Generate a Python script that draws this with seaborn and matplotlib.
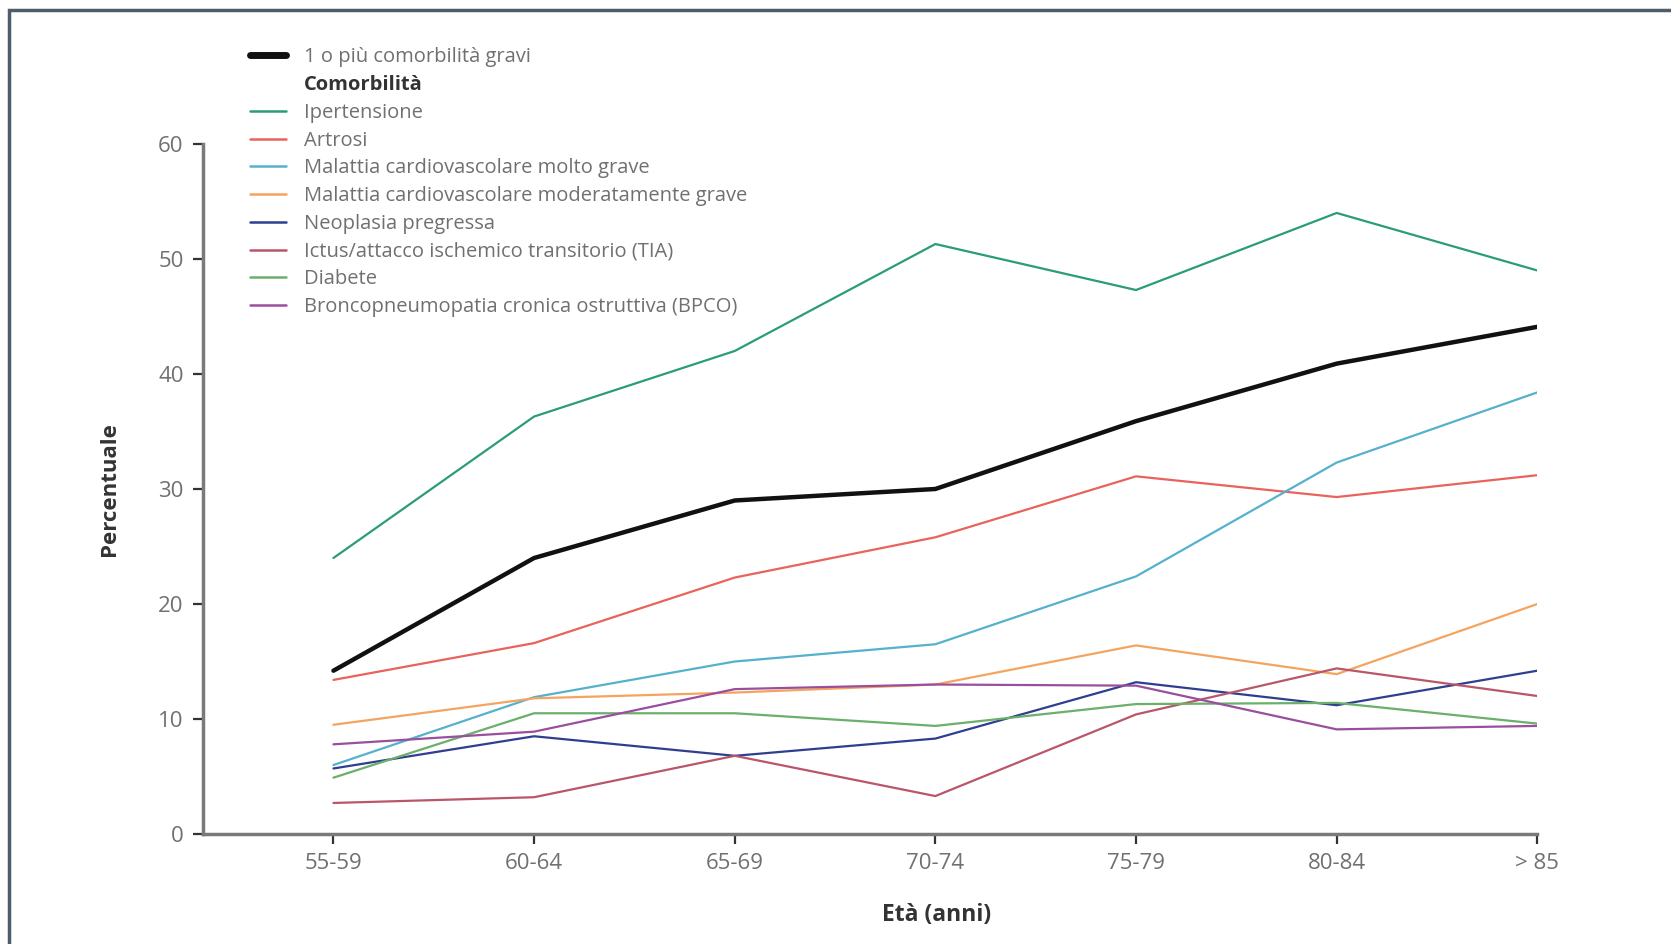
import matplotlib
matplotlib.use("Agg")
import matplotlib.pyplot as plt
from matplotlib.lines import Line2D
from matplotlib.patches import Rectangle
import seaborn as sns
import pandas as pd

# Age classes (x axis)
eta = ["55-59", "60-64", "65-69", "70-74", "75-79", "80-84", "> 85"]

# Percentages
gravi = [14.2, 24.0, 29.0, 30.0, 35.9, 40.9, 44.1]
ipertensione = [24.0, 36.3, 42.0, 51.3, 47.3, 54.0, 49.0]
artrosi = [13.4, 16.6, 22.3, 25.8, 31.1, 29.3, 31.2]
cv_molto_grave = [6.0, 11.9, 15.0, 16.5, 22.4, 32.3, 38.4]
cv_moderato = [9.5, 11.8, 12.3, 13.0, 16.4, 13.9, 20.0]
neoplasia = [5.7, 8.5, 6.8, 8.3, 13.2, 11.2, 14.2]
ictus = [2.7, 3.2, 6.8, 3.3, 10.4, 14.4, 12.0]
diabete = [4.9, 10.5, 10.5, 9.4, 11.3, 11.4, 9.6]
bpco = [7.8, 8.9, 12.6, 13.0, 12.9, 9.1, 9.4]

serie = {
    "Ipertensione": ipertensione,
    "Artrosi": artrosi,
    "Malattia cardiovascolare molto grave": cv_molto_grave,
    "Malattia cardiovascolare moderatamente grave": cv_moderato,
    "Neoplasia pregressa": neoplasia,
    "Ictus/attacco ischemico transitorio (TIA)": ictus,
    "Diabete": diabete,
    "Broncopneumopatia cronica ostruttiva (BPCO)": bpco,
}
colori = ["#2a9d78", "#e8635b", "#55b1cc", "#f4a460",
          "#2e3f8f", "#b9566a", "#6aaf6a", "#9a4e9e"]

rows = []
for nome, valori in serie.items():
    for e, v in zip(eta, valori):
        rows.append({"Età": e, "Percentuale": v, "Comorbilità": nome})
df = pd.DataFrame(rows)
df_gravi = pd.DataFrame({"Età": eta, "Percentuale": gravi})

sns.set_style("white")
plt.rcParams["font.family"] = ["Open Sans", "DejaVu Sans"]

fig = plt.figure(figsize=(16.71, 9.44), dpi=100)
ax = fig.add_axes([0.1215, 0.1165, 0.7985, 0.731])

palette = dict(zip(serie.keys(), colori))
sns.lineplot(data=df, x="Età", y="Percentuale", hue="Comorbilità",
             palette=palette, linewidth=1.6, sort=False, ax=ax, legend=False)
sns.lineplot(data=df_gravi, x="Età", y="Percentuale", color="#111111",
             linewidth=3.2, sort=False, ax=ax)

ax.set_xlim(-0.65, 6.0)
ax.set_ylim(0, 60)
ax.set_yticks(range(0, 61, 10))

for s in ["top", "right"]:
    ax.spines[s].set_visible(False)
for s in ["left", "bottom"]:
    ax.spines[s].set_color("#7a7a7a")
    ax.spines[s].set_linewidth(2.5)
ax.tick_params(axis="both", direction="out", length=7, width=1.6,
               bottom=True, left=True,
               color="#333333", labelcolor="#707070", labelsize=16, pad=7)

ax.set_xlabel("Età (anni)", fontsize=16.5, fontweight="bold", color="#333333")
ax.set_ylabel("Percentuale", fontsize=16, fontweight="bold", color="#333333")
ax.xaxis.set_label_coords(0.55, -0.1)
ax.yaxis.set_label_coords(-0.062, 0.5)

# legend: the combined line, a bold header, then the single comorbidities
handles = [Line2D([], [], color="#111111", linewidth=5),
           Line2D([], [], color="none")]
labels = ["1 o più comorbilità gravi", "Comorbilità"]
for nome, c in zip(serie.keys(), colori):
    handles.append(Line2D([], [], color=c, linewidth=1.8))
    labels.append(nome)
leg = fig.legend(handles, labels, loc="upper left",
                 bbox_to_anchor=(0.139, 0.969), frameon=False,
                 fontsize=14.5, labelspacing=0.385, handlelength=1.75,
                 handletextpad=0.9, labelcolor="#707070")
leg.get_texts()[1].set_fontweight("bold")
leg.get_texts()[1].set_color("#333333")

# frame around the figure
fig.patches.append(Rectangle((9 / 1671, -0.05), 1.1, 1.05 - 10 / 944,
                             transform=fig.transFigure, fill=False,
                             edgecolor="#4d5d6b", linewidth=2.5))

fig.savefig("out.png", dpi=100)
